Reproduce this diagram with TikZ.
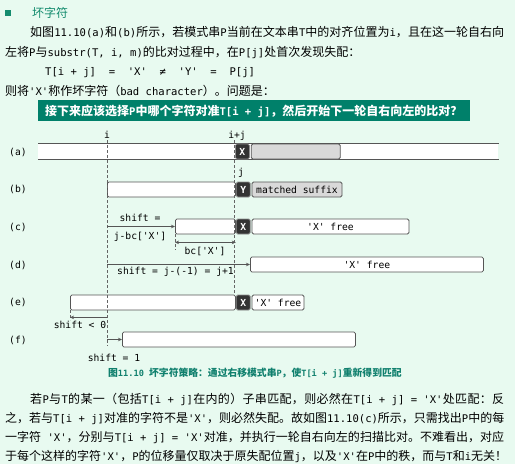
\documentclass[tikz,border=0pt]{standalone}
\usepackage{fontspec}
\setmonofont{DejaVu Sans Mono}[Scale=0.88]
\newfontfamily\cjk{Noto Sans CJK SC}
\usetikzlibrary{positioning,arrows.meta}

\definecolor{pagebg}{RGB}{232,250,240}
\definecolor{askteal}{RGB}{0,128,106}
\definecolor{headteal}{RGB}{20,140,110}
\definecolor{capteal}{RGB}{16,128,110}
\definecolor{boxline}{RGB}{85,85,85}
\definecolor{guidegray}{RGB}{100,100,100}
\definecolor{darkx}{RGB}{51,51,51}
\definecolor{xedge}{RGB}{140,140,140}
\definecolor{matchgray}{RGB}{217,217,217}

% CJK characters switch to the CJK font, everything else stays mono
\XeTeXinterchartokenstate=1
\newXeTeXintercharclass\cjkclass
\newcount\cjkcode
\newcommand\setcjkrange[2]{%
  \cjkcode=#1
  \loop
    \XeTeXcharclass\cjkcode=\cjkclass
    \ifnum\cjkcode<#2 \advance\cjkcode by 1
  \repeat}
\setcjkrange{"3000}{"303F}
\setcjkrange{"4E00}{"9FFF}
\setcjkrange{"FF00}{"FFEF}
\XeTeXinterchartoks 0 \cjkclass = {\cjk\hskip 0pt plus 1pt\relax}
\XeTeXinterchartoks 4095 \cjkclass = {\cjk}
\XeTeXinterchartoks \cjkclass 0 = {\ttfamily\hskip 0pt plus 1pt\relax}
\XeTeXinterchartoks \cjkclass 4095 = {\ttfamily}
\XeTeXinterchartoks \cjkclass \cjkclass = {\hskip 0pt plus 1pt\relax}
\newcommand\justline[2]{\hbox to #1{#2}}

\begin{document}
\begin{tikzpicture}[x=1pt,y=-1pt,
txt/.style={anchor=base west,inner sep=0pt,font=\fontsize{12}{14}\ttfamily},
lbl/.style={anchor=base,inner sep=0pt,font=\fontsize{11}{13}\ttfamily},
strbox/.style={draw=boxline,fill=white,line width=0.8pt,rounded corners=1.5pt,
    minimum height=15pt,inner sep=0pt,anchor=west,font=\fontsize{11}{13}\ttfamily},
badbox/.style={draw=xedge,fill=darkx,line width=0.8pt,rounded corners=1.5pt,
    minimum width=14pt,minimum height=15pt,inner sep=0pt,text=white,
    font=\fontsize{11}{13}\ttfamily\bfseries},
matchbox/.style={strbox,fill=matchgray},
tline/.style={draw=boxline,line width=0.8pt},
guide/.style={draw=guidegray,line width=0.6pt,dash pattern=on 3pt off 2pt},
>={Stealth[length=4pt,width=3.5pt]},
shiftarr/.style={draw=boxline,line width=0.7pt,->},
dimarr/.style={draw=boxline,line width=0.7pt,<->},
askbox/.style={fill=askteal,anchor=north west,minimum width=432pt,
    minimum height=21pt,inner sep=0pt}]
\fill[pagebg] (0,0) rectangle (515,464);
\useasboundingbox (0,0) rectangle (515,464);

% text above the figure
\node (hmark) [fill=headteal,minimum size=6pt,inner sep=0pt] at (8,13) {};
\node (head) [txt,text=headteal] at (32,17.5) {坏字符};
\node (p1a) [txt] at (30,36) {\justline{474pt}{如图11.10(a)和(b)所示，若模式串P当前在文本串T中的对齐位置为i，且在这一轮自右向}};
\node (p1b) [txt] at (5,56) {左将P与substr(T, i, m)的比对过程中，在P[j]处首次发现失配：};
\node (p1c) [txt] at (45,75) {T[i + j]~~=~~'X'~~≠~~'Y'~~=~~P[j]};
\node (p1d) [txt] at (5,95) {则将'X'称作坏字符（bad character）。问题是：};
\node (askbar) [askbox] at (38,100) {};
\node (ask) [txt,text=white,font=\fontsize{12}{14}\ttfamily\bfseries] at (45,115) {\justline{414pt}{接下来应该选择P中哪个字符对准T[i + j]，然后开始下一轮自右向左的比对？}};

% row labels
\node (ra) [lbl,anchor=base west] at (9,155) {(a)};
\node (rb) [lbl,anchor=base west] at (9,192) {(b)};
\node (rc) [lbl,anchor=base west] at (9,230) {(c)};
\node (rd) [lbl,anchor=base west] at (9,268) {(d)};
\node (re) [lbl,anchor=base west] at (9,305) {(e)};
\node (rf) [lbl,anchor=base west] at (9,343) {(f)};

% (a) text T
\node (tbar) [strbox,draw=none,rounded corners=0pt,minimum width=460pt] at (38,151.5) {};
\draw[tline] (tbar.north west) -- (tbar.north east) (tbar.south west) -- (tbar.south east);
\node (xa) [badbox,anchor=west] at (235,151.5) {X};
\node (sufa) [matchbox,right=1pt of xa,minimum width=89pt] {};
% (b) pattern P
\node (pb) [strbox,minimum width=128pt] at (107,189.5) {};
\node (yb) [badbox,right=0pt of pb] {Y};
\node (sufb) [matchbox,right=1pt of yb,minimum width=90pt] {matched suffix};
% (c)
\node (pc) [strbox,minimum width=60pt] at (175,226.5) {};
\node (xc) [badbox,right=0pt of pc] {X};
\node (freec) [strbox,right=1pt of xc,minimum width=157pt] {'X' free};
% (d)
\node (freed) [strbox,minimum width=233pt] at (250,264.5) {'X' free};
% (e)
\node (pe) [strbox,minimum width=165pt] at (70,302.5) {};
\node (xe) [badbox,right=0pt of pe] {X};
\node (freee) [strbox,right=1pt of xe,minimum width=52pt] {'X' free};
% (f)
\node (pf) [strbox,minimum width=233pt] at (122,339.5) {};

% positions i, i+j, j
\node (li) [lbl] at (107,138) {i};
\node (lij) [lbl] at (237,138) {i+j};
\node (lj) [lbl] at (241,175.5) {j};
\coordinate (itop) at (107,140);
\coordinate (ibot) at (107,346);
\coordinate (ijtop) at (234.5,140);
\draw[guide] (itop) -- (ibot);
\draw[guide] (ijtop) -- (ijtop |- xe.north);
\draw[guide] (pc.south west) -- ++(0,16);
\draw[guide] (pe.south west) -- ++(0,10);

% shifts
\draw[shiftarr] (itop |- pc.west) -- (pc.west);
\node (shc) [lbl] at (140,221) {shift =};
\node (shcb) [lbl] at (140,239) {j-bc['X']};
\draw[dimarr] ([yshift=-8pt]pc.south west) -- ([yshift=-8pt]pc.south east);
\node (bcx) [lbl] at (205,254) {bc['X']};
\draw[shiftarr] (itop |- freed.west) -- (freed.west);
\node (shd) [lbl] at (175.5,274) {shift = j-(-1) = j+1};
\coordinate (eend) at ([yshift=-7pt]pe.south west);
\draw[shiftarr] (itop |- eend) -- (eend);
\node (she) [lbl] at (80,328) {shift < 0};
\draw[shiftarr] (itop |- pf.west) -- (pf.west);
\node (shf) [lbl] at (114,361) {shift = 1};

% caption and text below
\node (cap) [txt,text=capteal,font=\fontsize{9.8}{12}\ttfamily\bfseries] at (108,376) {图11.10 坏字符策略：通过右移模式串P，使T[i + j]重新得到匹配};
\node (p2a) [txt] at (30,403) {\justline{474pt}{若P与T的某一（包括T[i + j]在内的）子串匹配，则必然在T[i + j] = 'X'处匹配：反}};
\node (p2b) [txt] at (5,422) {\justline{499pt}{之，若与T[i + j]对准的字符不是'X'，则必然失配。故如图11.10(c)所示，只需找出P中的每}};
\node (p2c) [txt] at (5,441.5) {\justline{499pt}{一字符 'X'，分别与T[i + j] = 'X'对准，并执行一轮自右向左的扫描比对。不难看出，对应}};
\node (p2d) [txt] at (5,460.5) {\justline{499pt}{于每个这样的字符'X'，P的位移量仅取决于原失配位置j，以及'X'在P中的秩，而与T和i无关！}};
\end{tikzpicture}
\end{document}
